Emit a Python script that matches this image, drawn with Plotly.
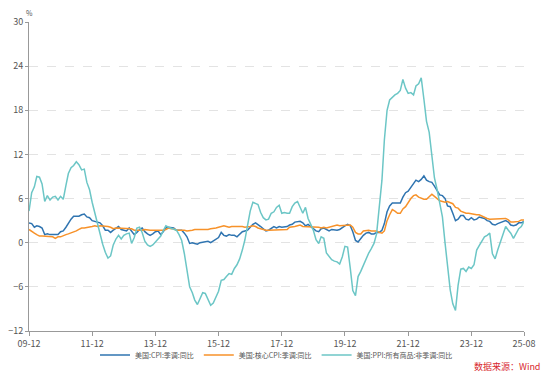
import pandas as pd
import plotly.graph_objects as go

# Monthly dates 2009-12 .. 2025-08
months = pd.date_range("2009-12-01", "2025-08-01", freq="MS")

cpi = [
    2.7,
    2.6, 2.1, 2.3, 2.2, 2.0, 1.1, 1.2, 1.1, 1.1, 1.2, 1.1, 1.5,
    1.6, 2.1, 2.7, 3.2, 3.6, 3.6, 3.6, 3.8, 3.9, 3.5, 3.4, 3.0,
    2.9, 2.9, 2.7, 2.3, 1.7, 1.7, 1.4, 1.7, 2.0, 2.2, 1.8, 1.7,
    1.6, 2.0, 1.5, 1.1, 1.4, 1.8, 2.0, 1.5, 1.2, 1.0, 1.2, 1.5,
    1.6, 1.1, 1.5, 2.0, 2.1, 2.1, 2.0, 1.7, 1.7, 1.7, 1.3, 0.8,
    -0.1, 0.0, -0.1, -0.2, 0.0, 0.1, 0.2, 0.2, 0.0, 0.2, 0.5, 0.7,
    1.4, 1.0, 0.9, 1.1, 1.0, 1.0, 0.8, 1.1, 1.5, 1.6, 1.7, 2.1,
    2.5, 2.7, 2.4, 2.2, 1.9, 1.6, 1.7, 1.9, 2.2, 2.0, 2.2, 2.1,
    2.1, 2.2, 2.4, 2.5, 2.8, 2.9, 2.9, 2.7, 2.3, 2.5, 2.2, 1.9,
    1.6, 1.5, 1.9, 2.0, 1.8, 1.6, 1.8, 1.7, 1.7, 1.8, 2.1, 2.3,
    2.5, 2.3, 1.5, 0.3, 0.1, 0.6, 1.0, 1.3, 1.4, 1.2, 1.2, 1.4,
    1.4, 1.7, 2.6, 4.2, 5.0, 5.4, 5.4, 5.3, 5.4, 6.2, 6.8, 7.0,
    7.5, 7.9, 8.5, 8.3, 8.6, 9.1, 8.5, 8.3, 8.2, 7.7, 7.1, 6.5,
    6.4, 6.0, 5.0, 4.9, 4.0, 3.0, 3.2, 3.7, 3.7, 3.2, 3.1, 3.4,
    3.1, 3.2, 3.5, 3.4, 3.3, 3.0, 2.9, 2.5, 2.4, 2.6, 2.7, 2.9,
    3.0, 2.8, 2.4, 2.3, 2.4, 2.7, 2.7, 2.9,
]

core_cpi = [
    1.8,
    1.6, 1.3, 1.1, 0.9, 0.9, 0.9, 0.9, 0.9, 0.8, 0.6, 0.8, 0.8,
    1.0, 1.1, 1.2, 1.3, 1.5, 1.6, 1.8, 2.0, 2.0, 2.1, 2.2, 2.2,
    2.3, 2.2, 2.3, 2.3, 2.3, 2.2, 2.1, 1.9, 2.0, 2.0, 1.9, 1.9,
    1.9, 2.0, 1.9, 1.7, 1.7, 1.6, 1.7, 1.8, 1.7, 1.7, 1.7, 1.7,
    1.6, 1.6, 1.7, 1.8, 2.0, 1.9, 1.9, 1.7, 1.7, 1.8, 1.7, 1.6,
    1.6, 1.7, 1.8, 1.8, 1.7, 1.8, 1.8, 1.8, 1.9, 1.9, 2.0, 2.1,
    2.2, 2.3, 2.2, 2.1, 2.2, 2.2, 2.2, 2.3, 2.2, 2.1, 2.1, 2.2,
    2.3, 2.2, 2.0, 1.9, 1.7, 1.7, 1.7, 1.7, 1.7, 1.8, 1.7, 1.8,
    1.8, 1.8, 2.1, 2.1, 2.2, 2.3, 2.4, 2.2, 2.2, 2.1, 2.2, 2.2,
    2.2, 2.1, 2.0, 2.1, 2.0, 2.1, 2.2, 2.4, 2.4, 2.3, 2.3, 2.3,
    2.3, 2.4, 2.1, 1.4, 1.2, 1.2, 1.6, 1.7, 1.7, 1.6, 1.6, 1.6,
    1.4, 1.3, 1.6, 3.0, 3.8, 4.5, 4.3, 4.0, 4.0, 4.6, 4.9, 5.5,
    6.0, 6.4, 6.5, 6.2, 6.0, 5.9, 5.9, 6.3, 6.6, 6.3, 6.0, 5.7,
    5.6, 5.5, 5.6, 5.5, 5.3, 4.8, 4.7, 4.3, 4.1, 4.0, 4.0, 3.9,
    3.9, 3.8, 3.8, 3.6, 3.4, 3.3, 3.2, 3.2, 3.3, 3.3, 3.3, 3.2,
    3.3, 3.1, 2.8, 2.8, 2.8, 2.9, 3.1, 3.1,
]

ppi = [
    4.3,
    6.8, 7.6, 9.0, 8.9, 8.0, 5.6, 6.4, 5.8, 6.2, 6.3, 5.8, 6.3,
    5.9, 7.8, 9.4, 10.2, 10.5, 11.0, 10.6, 9.9, 10.0, 8.2, 7.2, 5.5,
    4.0, 2.6, 1.0, -0.2, -1.3, -2.1, -1.8, -0.3, 0.5, 1.0, 0.5, 1.0,
    1.2, 1.3, -0.1, 0.7, 2.0, 2.1, 1.4, 0.2, -0.3, -0.5, -0.3, 0.1,
    0.6, 0.9, 1.6, 2.3, 2.1, 2.0, 1.8, 1.7, 1.1, 0.3, -1.5, -4.0,
    -6.0, -6.8, -7.8, -8.4, -7.7, -6.8, -6.9, -7.6, -8.5, -8.2, -7.4, -6.6,
    -5.1, -5.0, -4.6, -4.2, -4.3, -3.5, -3.0, -2.2, -1.0, 0.4, 2.4, 4.3,
    5.5, 5.3, 5.2, 4.1, 3.4, 3.1, 3.2, 4.0, 4.2, 4.8, 5.1, 4.0,
    4.1, 4.0, 4.0, 4.9, 5.4, 5.6, 4.9, 4.0, 4.8, 3.3, 2.5, 1.7,
    0.4, -0.1, 0.8, 0.6, -1.4, -1.9, -2.3, -2.5, -2.6, -2.9, -1.9, -0.5,
    -0.6, -3.5, -6.5, -7.2, -4.6, -3.9, -3.0, -2.1, -1.4, -0.8, -0.1, 1.2,
    4.5, 8.5, 14.0, 18.0, 19.4, 19.8, 20.1, 20.3, 20.7, 22.2, 21.0, 20.3,
    20.4, 20.1, 21.3, 21.6, 22.4, 19.5, 16.5, 15.0, 11.5, 8.8, 7.2, 5.6,
    3.5, -0.1, -3.0, -6.4, -8.3, -9.2, -5.8, -3.6, -3.5, -3.9, -3.3, -3.5,
    -3.0, -1.0, -0.4, 0.2, 0.8, 1.0, 1.3, -1.5, -2.2, -1.0, 0.1, 1.3,
    2.2, 1.7, 1.3, 0.6, 1.3, 1.9, 2.2, 2.9,
]

series_names = ["美国:CPI:季调:同比", "美国:核心CPI:季调:同比", "美国:PPI:所有商品:非季调:同比"]
series_colors = ["#2f74b0", "#f7922a", "#6cc6c6"]

tick_dates = ["2009-12-01", "2011-12-01", "2013-12-01", "2015-12-01", "2017-12-01",
              "2019-12-01", "2021-12-01", "2023-12-01", "2025-08-01"]
tick_labels = ["09-12", "11-12", "13-12", "15-12", "17-12", "19-12", "21-12", "23-12", "25-08"]
y_ticks = [-12, -6, 0, 6, 12, 18, 24, 30]

FONT = "Noto Sans CJK SC, Noto Sans, sans-serif"

fig = go.Figure()
for name, vals, col in zip(series_names, [cpi, core_cpi, ppi], series_colors):
    fig.add_trace(go.Scatter(x=months, y=vals, mode="lines", name=name,
                             line=dict(color=col, width=1.5)))

# The page body adds an 8px offset, so the figure is sized/positioned to compensate.
fig.update_layout(
    width=545, height=371,
    margin=dict(l=21, r=29, t=14, b=48, pad=0, autoexpand=False),
    paper_bgcolor="white", plot_bgcolor="white",
    font=dict(family=FONT, size=9, color="#555555"),
    showlegend=True,
    legend=dict(orientation="h", x=0.5, xanchor="center", y=-0.078, yanchor="middle",
                font=dict(size=7, color="#555555"), itemwidth=30,
                bgcolor="rgba(0,0,0,0)", borderwidth=0),
    xaxis=dict(range=["2009-12-01", "2025-08-01"], tickvals=tick_dates, ticktext=tick_labels,
               automargin=False,
               showgrid=False, zeroline=False, showline=True, linecolor="#999999", linewidth=1,
               ticks="outside", ticklen=4, tickcolor="#999999",
               tickfont=dict(size=9, color="#555555")),
    yaxis=dict(range=[-12, 30], tickvals=y_ticks, showgrid=True, gridcolor="#e3e3e3",
               automargin=False,
               griddash="dash", gridwidth=1, zeroline=False, showline=True,
               linecolor="#999999", linewidth=1, ticks="outside", ticklen=3,
               tickcolor="#999999", tickfont=dict(size=9, color="#555555")),
    annotations=[
        dict(text="%", xref="paper", yref="paper", x=0, y=1, xanchor="center", yanchor="bottom",
             yshift=3, showarrow=False, borderpad=0, font=dict(size=7, color="#555555")),
        dict(text="数据来源：Wind", xref="paper", yref="paper", x=1.035, y=-0.1165,
             xanchor="right", yanchor="middle", showarrow=False, borderpad=0,
             font=dict(size=9, color="#d8282e")),
    ],
)

fig.write_html("out.html")
